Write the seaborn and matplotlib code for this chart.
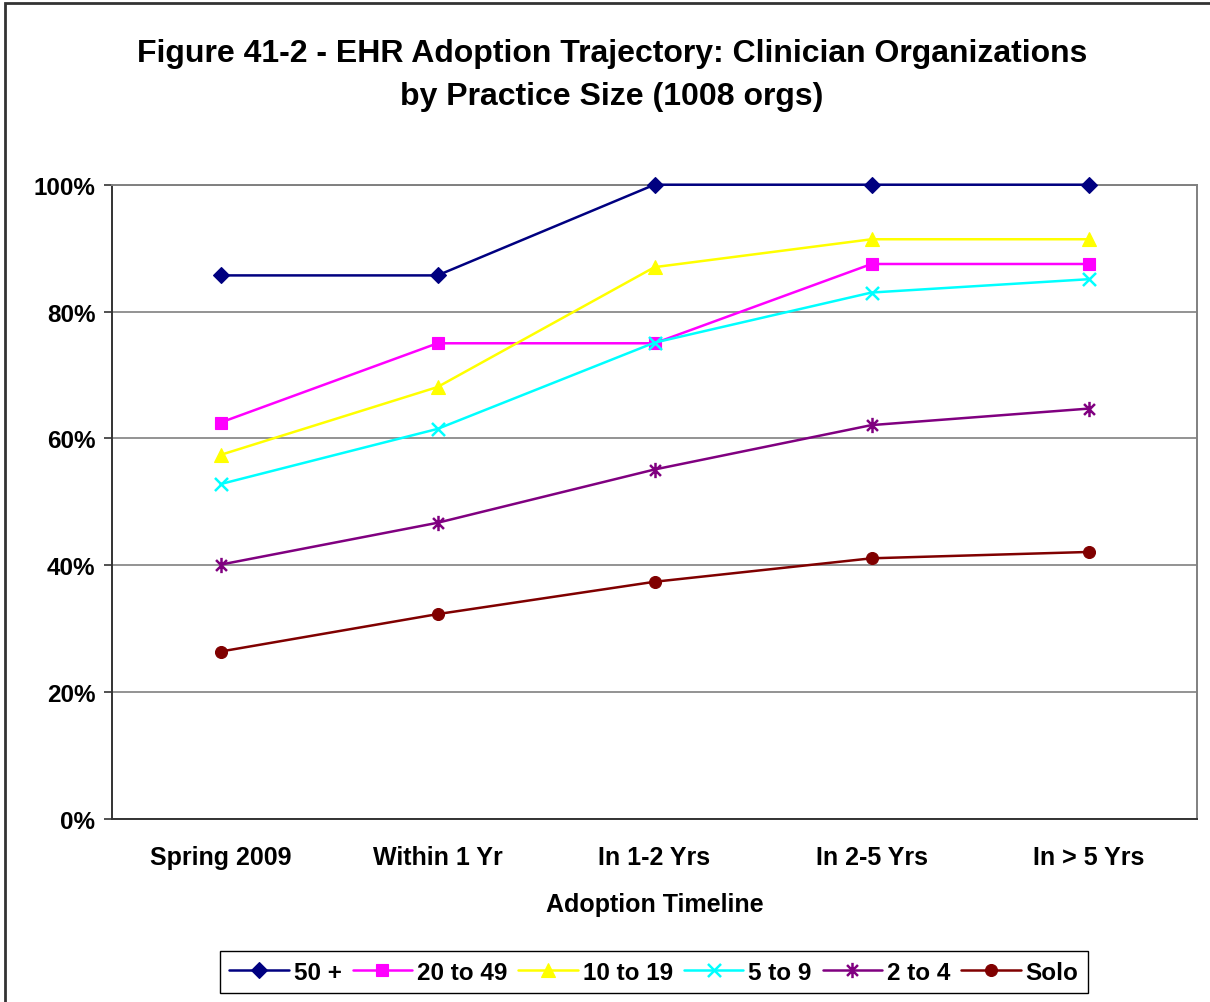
import matplotlib
matplotlib.use("Agg")
import matplotlib.pyplot as plt
import matplotlib.patches as mpatches
from matplotlib.path import Path
from matplotlib.ticker import PercentFormatter, FixedLocator
import numpy as np
import pandas as pd
import seaborn as sns

# ---- data -------------------------------------------------------------
timeline = ["Spring 2009", "Within 1 Yr", "In 1-2 Yrs", "In 2-5 Yrs", "In > 5 Yrs"]
groups = ["50 +", "20 to 49", "10 to 19", "5 to 9", "2 to 4", "Solo"]

size_50_plus = [85.7, 85.7, 100.0, 100.0, 100.0]
size_20_49 = [62.5, 75.0, 75.0, 87.5, 87.5]
size_10_19 = [57.4, 68.1, 87.0, 91.4, 91.4]
size_5_9 = [52.8, 61.5, 75.1, 83.0, 85.1]
size_2_4 = [40.1, 46.7, 55.1, 62.1, 64.7]
size_solo = [26.4, 32.3, 37.4, 41.1, 42.1]

series = [size_50_plus, size_20_49, size_10_19, size_5_9, size_2_4, size_solo]

df = pd.DataFrame(
    [(t, g, v / 100.0) for g, vals in zip(groups, series) for t, v in zip(timeline, vals)],
    columns=["Timeline", "Size", "Share"],
)

# ---- styling ----------------------------------------------------------
colors = ["#000080", "#FF00FF", "#FFFF00", "#00FFFF", "#800080", "#800000"]

X_PATH = Path([(-1, -1), (1, 1), (-1, 1), (1, -1)],
              [Path.MOVETO, Path.LINETO, Path.MOVETO, Path.LINETO])
STAR_PATH = Path([(-0.75, -0.75), (0.75, 0.75), (-0.75, 0.75), (0.75, -0.75), (0, -1.05), (0, 1.05)],
                 [Path.MOVETO, Path.LINETO, Path.MOVETO, Path.LINETO, Path.MOVETO, Path.LINETO])

markers = ["D", "s", "^", X_PATH, STAR_PATH, "o"]
msizes = [7.8, 8.6, 10.0, 9.4, 11.0, 8.6]
open_marker = [False, False, False, True, True, False]
LINE_W = 1.8

sns.set_theme(style="white")
plt.rcParams["font.family"] = ["Liberation Sans", "DejaVu Sans"]
plt.rcParams["font.weight"] = "bold"
plt.rcParams["text.color"] = "black"
plt.rcParams["xtick.color"] = "black"
plt.rcParams["ytick.color"] = "black"
plt.rcParams["axes.labelcolor"] = "black"

fig = plt.figure(figsize=(12.10, 10.03), dpi=100)
ax = fig.add_axes([112 / 1210, 1 - 820 / 1003, (1197 - 112) / 1210, (820 - 185.7) / 1003])

sns.lineplot(
    data=df, x="Timeline", y="Share", hue="Size", style="Size",
    hue_order=groups, style_order=groups,
    palette=dict(zip(groups, colors)),
    markers=dict(zip(groups, markers)),
    dashes=False, linewidth=LINE_W, sort=False, ax=ax,
)


def restyle(line, i):
    line.set_color(colors[i])
    line.set_linewidth(LINE_W)
    line.set_marker(markers[i])
    line.set_markersize(msizes[i])
    line.set_markerfacecolor(colors[i])
    line.set_markeredgecolor(colors[i])
    line.set_markeredgewidth(1.8 if open_marker[i] else 0.8)


for i, line in enumerate(ax.lines[: len(groups)]):
    restyle(line, i)
    line.set_clip_on(False)
    line.set_zorder(3 + i)

handles, labels = ax.get_legend_handles_labels()
ax.get_legend().remove()
for h, lab in zip(handles, labels):
    restyle(h, groups.index(lab))

# ---- axes -------------------------------------------------------------
ax.set_xlim(-0.5, len(timeline) - 0.5)
ax.set_ylim(0, 1.0)
ax.yaxis.set_major_locator(FixedLocator(np.arange(0, 1.01, 0.2)))
ax.yaxis.set_major_formatter(PercentFormatter(1.0, decimals=0))
ax.grid(axis="y", color="#808080", linewidth=1.2)
ax.set_axisbelow(True)

ax.set_xticks(range(len(timeline)))
ax.set_xticklabels(timeline)
ax.set_xticks(np.arange(-0.5, len(timeline), 1.0), minor=True)
ax.tick_params(axis="x", which="major", length=0, pad=19, labelsize=18, labelcolor="black")
ax.tick_params(axis="x", which="minor", length=6, width=1.2, color="#333333", direction="out")
ax.tick_params(axis="y", which="major", length=6, width=1.2, color="#333333",
               direction="out", pad=6, labelsize=17.5, left=True, labelcolor="black")
for lab in ax.get_xticklabels() + ax.get_yticklabels():
    lab.set_fontweight("bold")

for side in ("left", "bottom"):
    ax.spines[side].set_color("#333333")
    ax.spines[side].set_linewidth(1.4)
for side in ("right", "top"):
    ax.spines[side].set_visible(True)
    ax.spines[side].set_color("#808080")
    ax.spines[side].set_linewidth(1.4)

ax.set_xlabel("Adoption Timeline", fontsize=18, fontweight="bold", labelpad=16, color="black")
ax.set_ylabel("")

# ---- title ------------------------------------------------------------
fig.text(612 / 1210, 1 - 54 / 1003, "Figure 41-2 - EHR Adoption Trajectory: Clinician Organizations",
         ha="center", va="center", fontsize=23, fontweight="bold", color="black")
fig.text(612 / 1210, 1 - 97 / 1003, "by Practice Size (1008 orgs)",
         ha="center", va="center", fontsize=23, fontweight="bold", color="black")

# ---- legend -----------------------------------------------------------
leg = fig.legend(
    handles, labels, loc="center", bbox_to_anchor=(654 / 1210, 1 - 973 / 1003),
    ncol=6, frameon=True, fancybox=False, framealpha=1, edgecolor="#000000",
    prop={"size": 17.5, "weight": "bold"}, handlelength=2.45, handletextpad=0.2,
    columnspacing=0.45, borderpad=0.4,
)
leg.get_frame().set_linewidth(1.0)
for t in leg.get_texts():
    t.set_color("black")

# chart-area border
fig.patches.append(mpatches.Rectangle(
    (5 / 1210, -0.02), 1.0, 1 - 4 / 1003 + 0.02, transform=fig.transFigure,
    fill=False, edgecolor="#333333", linewidth=2.0, zorder=0))

fig.savefig("out.png", dpi=100)
